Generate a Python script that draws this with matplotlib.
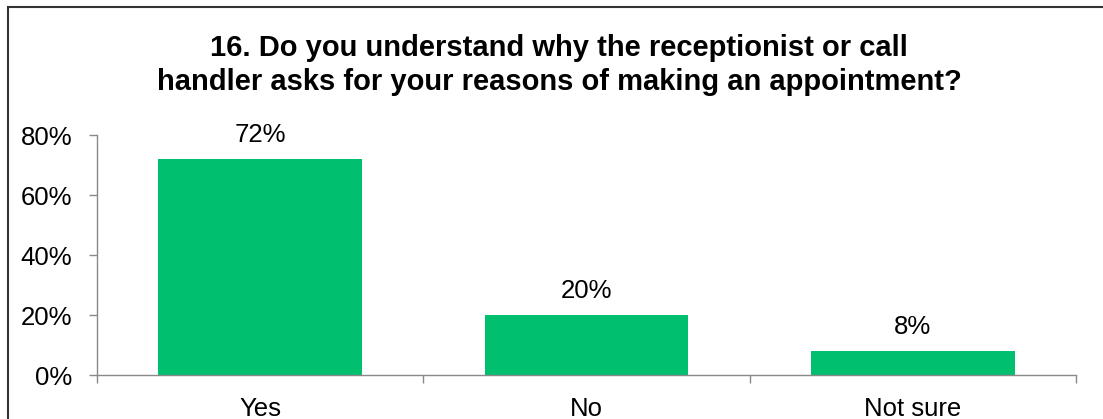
import matplotlib.pyplot as plt
from matplotlib.patches import Rectangle
from matplotlib.ticker import FixedLocator, PercentFormatter

plt.rcParams['font.family'] = ['Liberation Sans', 'DejaVu Sans']

# survey answers, share of respondents
answers = ['Yes', 'No', 'Not sure']
shares = [0.72, 0.20, 0.08]
title_lines = ['16. Do you understand why the receptionist or call',
               'handler asks for your reasons of making an appointment?']

fig = plt.figure(figsize=(11.03, 4.19), dpi=100)
ax = fig.add_axes([97 / 1103, 44 / 419, 979 / 1103, 240 / 419])

x = range(len(answers))
bars = ax.bar(x, shares, width=0.625, color='#00BF6F')

for b, v in zip(bars, shares):
    ax.annotate(f'{v:.0%}', (b.get_x() + b.get_width() / 2, v),
                xytext=(0, 12.5), textcoords='offset points',
                ha='center', va='baseline', fontsize=18.5)

ax.set_xlim(-0.5, len(answers) - 0.5)
ax.set_ylim(0, 0.8)
ax.set_yticks([0, 0.2, 0.4, 0.6, 0.8])
ax.yaxis.set_major_formatter(PercentFormatter(1.0, decimals=0))
ax.set_xticks(list(x))
ax.set_xticklabels(answers)
ax.xaxis.set_minor_locator(FixedLocator([i - 0.5 for i in range(len(answers) + 1)]))

ax.tick_params(axis='x', which='major', length=0, pad=16, labelsize=18.5)
ax.tick_params(axis='x', which='minor', length=6, width=1, color='#898989')
ax.tick_params(axis='y', length=6, width=1, color='#898989', pad=12, labelsize=18.5)

for side in ['top', 'right']:
    ax.spines[side].set_visible(False)
for side in ['left', 'bottom']:
    ax.spines[side].set_color('#898989')
    ax.spines[side].set_linewidth(1)

fig.text(0.5068, 1 - 56 / 419, title_lines[0], ha='center', va='baseline',
         fontsize=21, fontweight='bold')
fig.text(0.5068, 1 - 90 / 419, title_lines[1], ha='center', va='baseline',
         fontsize=21, fontweight='bold')

# outer chart frame, running off the right and bottom edges
fig.patches.append(Rectangle((8 / 1103, -0.1), 1.2, 1 - 7 / 419 + 0.1,
                             transform=fig.transFigure, fill=False,
                             edgecolor='#333333', linewidth=1.5))

fig.savefig('out.png', dpi=100)
